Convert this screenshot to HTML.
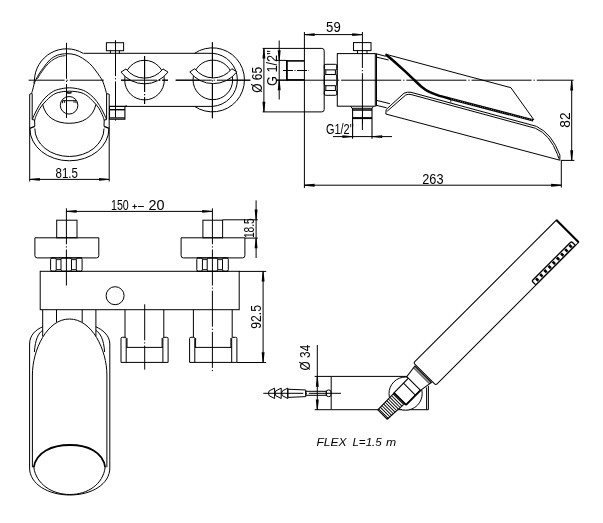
<!DOCTYPE html>
<html><head><meta charset="utf-8"><style>
html,body{margin:0;padding:0;background:#fff;}
svg{display:block;filter:grayscale(1);}
text{font-family:"Liberation Sans",sans-serif;fill:#000;}
</style></head><body>
<svg width="603" height="523" viewBox="0 0 603 523">
<rect width="603" height="523" fill="#fff"/>
<path d="M83.3,53.4 A32.3,32.3 0 0 0 34.4,80.5 L33.9,83.5" fill="none" stroke="#000" stroke-width="1.0" />
<path d="M31.60,93.40 C31.77,92.85 32.18,91.63 32.60,90.10 C33.02,88.57 33.60,85.85 34.10,84.20 C34.60,82.55 35.02,81.50 35.60,80.20 C36.18,78.90 36.92,77.60 37.60,76.40 C38.28,75.20 38.70,74.48 39.70,73.00 C40.70,71.52 41.93,69.67 43.60,67.50 C45.27,65.33 47.38,62.05 49.70,60.00 C52.02,57.95 54.67,56.25 57.50,55.20 C60.33,54.15 63.78,53.78 66.70,53.70 C69.62,53.62 72.40,53.97 75.00,54.70 C77.60,55.43 79.85,56.62 82.30,58.10 C84.75,59.58 87.55,61.62 89.70,63.60 C91.85,65.58 93.52,67.87 95.20,70.00 C96.88,72.13 98.57,74.57 99.80,76.40 C101.03,78.23 101.77,79.17 102.60,81.00 C103.43,82.83 104.13,85.30 104.80,87.40 C105.47,89.50 106.30,92.57 106.60,93.60" fill="none" stroke="#000" stroke-width="1.0" />
<path d="M37.40,78.80 C37.78,78.15 38.95,76.08 39.70,74.90 C40.45,73.72 40.88,73.12 41.90,71.70 C42.92,70.28 44.20,68.22 45.80,66.40 C47.40,64.58 49.38,62.38 51.50,60.80 C53.62,59.22 56.17,57.77 58.50,56.90 C60.83,56.03 64.33,55.82 65.50,55.60" fill="none" stroke="#000" stroke-width="0.9" />
<path d="M31.8,93.5 L29.7,94.2 L29.7,128" fill="none" stroke="#000" stroke-width="1.0" />
<path d="M106.6,93.6 L109.2,94.2 L109.2,128" fill="none" stroke="#000" stroke-width="1.0" />
<line x1="32.20" y1="93.50" x2="32.20" y2="119.40" stroke="#000" stroke-width="1.0"/>
<line x1="106.60" y1="93.60" x2="106.60" y2="119.40" stroke="#000" stroke-width="1.0"/>
<path d="M32.30,119.60 C32.70,118.67 33.53,116.37 34.70,114.00 C35.87,111.63 37.58,108.08 39.30,105.40 C41.02,102.72 42.90,100.10 45.00,97.90 C47.10,95.70 49.60,93.63 51.90,92.20 C54.20,90.77 55.88,90.03 58.80,89.30 C61.72,88.57 65.87,87.80 69.40,87.80 C72.93,87.80 77.08,88.57 80.00,89.30 C82.92,90.03 84.60,90.77 86.90,92.20 C89.20,93.63 91.70,95.70 93.80,97.90 C95.90,100.10 97.78,102.72 99.50,105.40 C101.22,108.08 102.93,111.63 104.10,114.00 C105.27,116.37 106.10,118.67 106.50,119.60" fill="none" stroke="#000" stroke-width="1.0" />
<path d="M34.80,120.10 C34.98,119.47 35.05,118.27 35.90,116.30 C36.75,114.33 38.38,110.68 39.90,108.30 C41.42,105.92 43.00,104.12 45.00,102.00 C47.00,99.88 49.60,97.20 51.90,95.60 C54.20,94.00 55.88,93.13 58.80,92.40 C61.72,91.67 65.87,91.20 69.40,91.20 C72.93,91.20 77.08,91.67 80.00,92.40 C82.92,93.13 84.60,94.00 86.90,95.60 C89.20,97.20 91.80,99.88 93.80,102.00 C95.80,104.12 97.38,105.92 98.90,108.30 C100.42,110.68 102.05,114.33 102.90,116.30 C103.75,118.27 103.82,119.47 104.00,120.10" fill="none" stroke="#000" stroke-width="1.0" />
<line x1="32.30" y1="119.60" x2="34.80" y2="120.10" stroke="#000" stroke-width="1.0"/>
<line x1="106.50" y1="119.60" x2="104.00" y2="120.10" stroke="#000" stroke-width="1.0"/>
<line x1="34.60" y1="120.00" x2="34.80" y2="126.30" stroke="#000" stroke-width="1.0"/>
<line x1="104.20" y1="120.00" x2="104.00" y2="126.30" stroke="#000" stroke-width="1.0"/>
<path d="M42.7,104.5 C45.5,117.5 56,123.3 69.3,123.3 C82.5,123.3 93,117.5 95.9,104.5" fill="none" stroke="#000" stroke-width="1.0" />
<circle cx="69.10" cy="105.30" r="8.80" fill="none" stroke="#000" stroke-width="1.0"/>
<path d="M62.6,103.2 L62.6,100.7 L76,100.7 L76,103.2" fill="none" stroke="#000" stroke-width="1.0" />
<path d="M64.5,103 L64.5,101 M74,103 L74,101" fill="none" stroke="#000" stroke-width="0.8" />
<path d="M67,92.3 Q69,93.8 71.5,92.3" fill="none" stroke="#000" stroke-width="1.5" />
<line x1="29.70" y1="128.30" x2="34.80" y2="126.30" stroke="#000" stroke-width="1.3"/>
<line x1="109.20" y1="128.30" x2="104.00" y2="126.30" stroke="#000" stroke-width="1.3"/>
<path d="M29.9,128.8 A39.5,32 0 0 0 108.9,128.8" fill="none" stroke="#000" stroke-width="1.0" />
<path d="M34.8,128.5 A34.6,28 0 0 0 104.0,128.5" fill="none" stroke="#000" stroke-width="1.0" />
<line x1="29.70" y1="128.00" x2="29.70" y2="181.50" stroke="#000" stroke-width="1.0"/>
<line x1="109.20" y1="128.00" x2="109.20" y2="181.50" stroke="#000" stroke-width="1.0"/>
<line x1="29.70" y1="179.40" x2="109.20" y2="179.40" stroke="#000" stroke-width="1.0"/>
<path d="M29.70,178.95 L39.90,177.95 L39.90,180.85 L29.70,179.85 Z" fill="#000" stroke="none"/>
<path d="M109.20,179.85 L99.00,180.85 L99.00,177.95 L109.20,178.95 Z" fill="#000" stroke="none"/>
<text x="55.5" y="177.5" font-size="14.2" text-anchor="start" textLength="22.4" lengthAdjust="spacingAndGlyphs">81.5</text>
<line x1="66.50" y1="42.80" x2="66.50" y2="118.00" stroke="#000" stroke-width="1.0" stroke-dasharray="36 2 1.2 2"/>
<line x1="28.60" y1="80.20" x2="103.80" y2="80.20" stroke="#000" stroke-width="1.0" stroke-dasharray="36 2 1.2 2"/>
<line x1="121.00" y1="80.20" x2="168.00" y2="80.20" stroke="#000" stroke-width="1.0" stroke-dasharray="36 2 1.2 2"/>
<line x1="175.70" y1="80.20" x2="250.30" y2="80.20" stroke="#000" stroke-width="1.0" stroke-dasharray="36 2 1.2 2"/>
<line x1="115.50" y1="40.20" x2="115.50" y2="121.00" stroke="#000" stroke-width="1.0" stroke-dasharray="36 2 1.2 2"/>
<line x1="144.60" y1="56.00" x2="144.60" y2="104.00" stroke="#000" stroke-width="1.0" stroke-dasharray="36 2 1.2 2"/>
<line x1="212.40" y1="42.30" x2="212.40" y2="118.20" stroke="#000" stroke-width="1.0" stroke-dasharray="36 2 1.2 2"/>
<line x1="83.50" y1="53.30" x2="212.40" y2="53.30" stroke="#000" stroke-width="1.0"/>
<line x1="109.20" y1="106.40" x2="212.40" y2="106.40" stroke="#000" stroke-width="1.0"/>
<path d="M194.6,53.3 A32,32 0 1 1 194.6,106.4" fill="none" stroke="#000" stroke-width="1.0" />
<path d="M212.4,53.3 A26.6,26.6 0 0 1 212.4,106.4" fill="none" stroke="#000" stroke-width="1.0" />
<rect x="106.40" y="42.70" width="17.20" height="8.00" rx="0" fill="none" stroke="#000" stroke-width="1.0"/>
<line x1="110.40" y1="50.70" x2="110.40" y2="53.30" stroke="#000" stroke-width="1.0"/>
<line x1="119.40" y1="50.70" x2="119.40" y2="53.30" stroke="#000" stroke-width="1.0"/>
<line x1="109.50" y1="109.70" x2="124.90" y2="109.70" stroke="#000" stroke-width="1.4"/>
<rect x="109.50" y="106.40" width="15.40" height="12.80" rx="0" fill="none" stroke="#000" stroke-width="1.1"/>
<line x1="109.50" y1="117.90" x2="124.90" y2="117.90" stroke="#000" stroke-width="1.2"/>
<line x1="124.90" y1="106.40" x2="126.80" y2="105.60" stroke="#000" stroke-width="1.0"/>
<circle cx="144.50" cy="80.10" r="19.80" fill="none" stroke="#000" stroke-width="1.0"/>
<path d="M126.00,68.90 A23.2,23.2 0 0 0 163.00,68.90 L168.00,72.10 A29.4,29.4 0 0 1 121.00,72.10 Z" fill="#fff" stroke="#000" stroke-width="1.0" stroke-linejoin="round"/>
<circle cx="212.85" cy="79.90" r="19.80" fill="none" stroke="#000" stroke-width="1.0"/>
<path d="M194.80,68.70 A23.2,23.2 0 0 0 231.80,68.70 L236.80,71.90 A29.4,29.4 0 0 1 189.80,71.90 Z" fill="#fff" stroke="#000" stroke-width="1.0" stroke-linejoin="round"/>
<line x1="144.60" y1="56.00" x2="144.60" y2="104.00" stroke="#000" stroke-width="1.0" stroke-dasharray="36 2 1.2 2"/>
<line x1="212.40" y1="42.30" x2="212.40" y2="118.20" stroke="#000" stroke-width="1.0" stroke-dasharray="36 2 1.2 2"/>
<line x1="121.00" y1="80.20" x2="168.00" y2="80.20" stroke="#000" stroke-width="1.0" stroke-dasharray="36 2 1.2 2"/>
<line x1="175.70" y1="80.20" x2="250.30" y2="80.20" stroke="#000" stroke-width="1.0" stroke-dasharray="36 2 1.2 2"/>
<line x1="304.40" y1="32.00" x2="304.40" y2="188.00" stroke="#000" stroke-width="1.0"/>
<line x1="362.40" y1="32.00" x2="362.40" y2="130.00" stroke="#000" stroke-width="1.0" stroke-dasharray="36 2 1.2 2"/>
<line x1="304.40" y1="34.60" x2="362.40" y2="34.60" stroke="#000" stroke-width="1.0"/>
<path d="M304.40,34.15 L314.60,33.15 L314.60,36.05 L304.40,35.05 Z" fill="#000" stroke="none"/>
<path d="M362.40,35.05 L352.20,36.05 L352.20,33.15 L362.40,34.15 Z" fill="#000" stroke="none"/>
<text x="326.1" y="32.4" font-size="14.2" text-anchor="start" textLength="14.6" lengthAdjust="spacingAndGlyphs">59</text>
<path d="M262.6,48.4 L321.8,48.4 Q324.2,48.4 324.2,50.8 L324.2,109.5 Q324.2,111.9 321.8,111.9 L262.6,111.9" fill="none" stroke="#000" stroke-width="1.0" />
<line x1="263.90" y1="48.40" x2="263.90" y2="111.90" stroke="#000" stroke-width="1.0"/>
<path d="M264.35,48.40 L265.35,58.60 L262.45,58.60 L263.45,48.40 Z" fill="#000" stroke="none"/>
<path d="M263.45,111.90 L262.45,101.70 L265.35,101.70 L264.35,111.90 Z" fill="#000" stroke="none"/>
<text x="261.7" y="92.8" font-size="14.2" text-anchor="start" textLength="25.9" lengthAdjust="spacingAndGlyphs" transform="rotate(-90 261.7 92.8)">Ø 65</text>
<line x1="286.90" y1="60.90" x2="304.40" y2="60.90" stroke="#000" stroke-width="1.6"/>
<line x1="286.90" y1="79.90" x2="304.40" y2="79.90" stroke="#000" stroke-width="1.6"/>
<line x1="286.90" y1="60.10" x2="286.90" y2="80.70" stroke="#000" stroke-width="1.8"/>
<line x1="283.00" y1="70.50" x2="309.00" y2="70.50" stroke="#000" stroke-width="1.0" stroke-dasharray="10 1.5 1 1.5"/>
<line x1="279.20" y1="40.50" x2="279.20" y2="99.50" stroke="#000" stroke-width="1.0"/>
<line x1="276.00" y1="60.40" x2="286.40" y2="60.40" stroke="#000" stroke-width="1.0"/>
<line x1="276.00" y1="80.10" x2="286.40" y2="80.10" stroke="#000" stroke-width="1.0"/>
<path d="M278.75,60.40 L277.75,50.20 L280.65,50.20 L279.65,60.40 Z" fill="#000" stroke="none"/>
<path d="M279.65,80.10 L280.65,90.30 L277.75,90.30 L278.75,80.10 Z" fill="#000" stroke="none"/>
<text x="276.7" y="85.9" font-size="14.2" text-anchor="start" textLength="35.6" lengthAdjust="spacingAndGlyphs" transform="rotate(-90 276.7 85.9)">G 1/2"</text>
<rect x="324.30" y="64.30" width="12.60" height="5.60" rx="1.6" fill="none" stroke="#000" stroke-width="1.0"/>
<rect x="324.30" y="74.50" width="12.60" height="11.20" rx="1.6" fill="none" stroke="#000" stroke-width="1.0"/>
<rect x="324.30" y="90.50" width="12.60" height="4.80" rx="1.6" fill="none" stroke="#000" stroke-width="1.0"/>
<line x1="325.80" y1="69.90" x2="325.80" y2="74.50" stroke="#000" stroke-width="1.0"/>
<line x1="335.40" y1="69.90" x2="335.40" y2="74.50" stroke="#000" stroke-width="1.0"/>
<line x1="325.80" y1="85.70" x2="325.80" y2="90.50" stroke="#000" stroke-width="1.0"/>
<line x1="335.40" y1="85.70" x2="335.40" y2="90.50" stroke="#000" stroke-width="1.0"/>
<line x1="324.30" y1="64.30" x2="324.30" y2="95.30" stroke="#000" stroke-width="0.6"/>
<line x1="336.90" y1="64.30" x2="336.90" y2="95.30" stroke="#000" stroke-width="0.6"/>
<rect x="337.30" y="53.60" width="38.00" height="52.60" rx="0" fill="none" stroke="#000" stroke-width="1.0"/>
<line x1="376.50" y1="53.60" x2="376.50" y2="106.20" stroke="#000" stroke-width="1.0"/>
<rect x="353.50" y="42.60" width="17.50" height="8.00" rx="0" fill="none" stroke="#000" stroke-width="1.0"/>
<line x1="357.50" y1="50.60" x2="357.50" y2="53.60" stroke="#000" stroke-width="1.0"/>
<line x1="367.00" y1="50.60" x2="367.00" y2="53.60" stroke="#000" stroke-width="1.0"/>
<path d="M350.8,106.3 L352,108.3 L372.2,108.3 L373.4,106.3" fill="none" stroke="#000" stroke-width="1.0" />
<line x1="352.60" y1="110.00" x2="372.00" y2="110.00" stroke="#000" stroke-width="1.5"/>
<line x1="352.60" y1="118.10" x2="372.00" y2="118.10" stroke="#000" stroke-width="2.0"/>
<line x1="352.60" y1="108.30" x2="352.60" y2="138.80" stroke="#000" stroke-width="1.1"/>
<line x1="372.00" y1="108.30" x2="372.00" y2="138.80" stroke="#000" stroke-width="1.1"/>
<line x1="333.00" y1="136.60" x2="392.00" y2="136.60" stroke="#000" stroke-width="1.0"/>
<path d="M352.60,137.05 L342.40,138.05 L342.40,135.15 L352.60,136.15 Z" fill="#000" stroke="none"/>
<path d="M372.00,136.15 L382.20,135.15 L382.20,138.05 L372.00,137.05 Z" fill="#000" stroke="none"/>
<text x="325.9" y="134.3" font-size="14.2" text-anchor="start" textLength="27.7" lengthAdjust="spacingAndGlyphs">G1/2"</text>
<line x1="276.00" y1="80.20" x2="573.50" y2="80.20" stroke="#000" stroke-width="1.0" stroke-dasharray="60 2 1.2 2"/>
<line x1="375.50" y1="53.60" x2="385.70" y2="56.30" stroke="#000" stroke-width="1.0"/>
<line x1="376.50" y1="57.10" x2="388.60" y2="60.00" stroke="#000" stroke-width="1.0"/>
<line x1="376.30" y1="100.30" x2="389.90" y2="103.70" stroke="#000" stroke-width="1.0"/>
<line x1="376.30" y1="105.30" x2="386.60" y2="107.80" stroke="#000" stroke-width="1.0"/>
<path d="M385.5,54.2 L510.9,87.7 L534.0,120.0" fill="none" stroke="#000" stroke-width="1.0" />
<path d="M385.60,54.40 C386.60,55.22 388.67,56.75 391.60,59.30 C394.53,61.85 399.33,66.17 403.20,69.70 C407.07,73.23 411.70,77.62 414.80,80.50 C417.90,83.38 419.47,85.13 421.80,87.00 C424.13,88.87 426.10,90.30 428.80,91.70 C431.50,93.10 434.47,94.23 438.00,95.40 C441.53,96.57 448.00,98.15 450.00,98.70 L533.2,120.4" fill="none" stroke="#000" stroke-width="2.5" />
<path d="M451,99 L532,120.1" fill="none" stroke="#fff" stroke-width="0.6" stroke-dasharray="0.7 1.6"/>
<line x1="450.80" y1="99.40" x2="450.80" y2="102.60" stroke="#000" stroke-width="0.8"/>
<path d="M385.8,114 L386.2,109.5 L404,93.2 Q407.5,91.6 411,92.3 L536.3,126.3 Q552,133.5 559.9,155.2 L559.8,160.2 Z" fill="none" stroke="#000" stroke-width="1.0" />
<path d="M387.2,111.2 L405.7,95.0 Q408,93.9 411,94.5 L535.5,128.3 Q550,134.5 557.5,154.5 L558.9,158.7" fill="none" stroke="#000" stroke-width="1.0" />
<line x1="571.70" y1="80.20" x2="571.70" y2="160.40" stroke="#000" stroke-width="1.0"/>
<line x1="560.80" y1="160.40" x2="574.40" y2="160.40" stroke="#000" stroke-width="1.0"/>
<path d="M572.15,80.20 L573.15,90.40 L570.25,90.40 L571.25,80.20 Z" fill="#000" stroke="none"/>
<path d="M571.25,160.40 L570.25,150.20 L573.15,150.20 L572.15,160.40 Z" fill="#000" stroke="none"/>
<text x="569.7" y="127.8" font-size="14.2" text-anchor="start" textLength="15.4" lengthAdjust="spacingAndGlyphs" transform="rotate(-90 569.7 127.8)">82</text>
<line x1="561.30" y1="160.20" x2="561.30" y2="187.50" stroke="#000" stroke-width="1.0"/>
<line x1="304.40" y1="185.20" x2="561.30" y2="185.20" stroke="#000" stroke-width="1.0"/>
<path d="M304.40,184.75 L314.60,183.75 L314.60,186.65 L304.40,185.65 Z" fill="#000" stroke="none"/>
<path d="M561.30,185.65 L551.10,186.65 L551.10,183.75 L561.30,184.75 Z" fill="#000" stroke="none"/>
<text x="422.2" y="183.6" font-size="14.2" text-anchor="start" textLength="21.3" lengthAdjust="spacingAndGlyphs">263</text>
<line x1="362.50" y1="106.00" x2="362.50" y2="123.70" stroke="#000" stroke-width="1.0" stroke-dasharray="36 2 1.2 2"/>
<line x1="66.40" y1="208.30" x2="66.40" y2="287.00" stroke="#000" stroke-width="1.0" stroke-dasharray="36 2 1.2 2"/>
<line x1="212.40" y1="208.30" x2="212.40" y2="373.00" stroke="#000" stroke-width="1.0" stroke-dasharray="36 2 1.2 2"/>
<line x1="66.40" y1="211.40" x2="212.40" y2="211.40" stroke="#000" stroke-width="1.0"/>
<path d="M66.40,210.95 L76.60,209.95 L76.60,212.85 L66.40,211.85 Z" fill="#000" stroke="none"/>
<path d="M212.40,211.85 L202.20,212.85 L202.20,209.95 L212.40,210.95 Z" fill="#000" stroke="none"/>
<text x="111.0" y="209.6" font-size="14.2" text-anchor="start" textLength="17.8" lengthAdjust="spacingAndGlyphs">150</text>
<text x="148.6" y="209.6" font-size="14.2" text-anchor="start" textLength="16.0" lengthAdjust="spacingAndGlyphs">20</text>
<line x1="132.40" y1="206.50" x2="136.90" y2="206.50" stroke="#000" stroke-width="0.95"/>
<line x1="134.65" y1="204.20" x2="134.65" y2="208.80" stroke="#000" stroke-width="0.95"/>
<line x1="138.00" y1="206.50" x2="143.90" y2="206.50" stroke="#000" stroke-width="0.95"/>
<rect x="56.70" y="220.20" width="20.30" height="17.60" rx="0" fill="none" stroke="#000" stroke-width="1.0"/>
<path d="M34.9,237.8 L98.8,237.8 L98.8,255.6 Q98.8,257.9 96.5,257.9 L37.199999999999996,257.9 Q34.9,257.9 34.9,255.6 Z" fill="none" stroke="#000" stroke-width="1.0" />
<line x1="50.60" y1="257.90" x2="82.10" y2="257.90" stroke="#000" stroke-width="1.0"/>
<line x1="50.60" y1="271.30" x2="82.10" y2="271.30" stroke="#000" stroke-width="1.0"/>
<rect x="50.60" y="257.90" width="5.61" height="13.40" rx="1.6" fill="none" stroke="#000" stroke-width="1.0"/>
<rect x="60.99" y="257.90" width="10.49" height="13.40" rx="1.6" fill="none" stroke="#000" stroke-width="1.0"/>
<rect x="76.30" y="257.90" width="5.80" height="13.40" rx="1.6" fill="none" stroke="#000" stroke-width="1.0"/>
<line x1="56.21" y1="259.60" x2="60.99" y2="259.60" stroke="#000" stroke-width="0.9"/>
<line x1="56.21" y1="269.60" x2="60.99" y2="269.60" stroke="#000" stroke-width="0.9"/>
<line x1="71.48" y1="259.60" x2="76.30" y2="259.60" stroke="#000" stroke-width="0.9"/>
<line x1="71.48" y1="269.60" x2="76.30" y2="269.60" stroke="#000" stroke-width="0.9"/>
<rect x="202.90" y="220.20" width="19.70" height="17.60" rx="0" fill="none" stroke="#000" stroke-width="1.0"/>
<path d="M181.1,237.8 L244.9,237.8 L244.9,255.6 Q244.9,257.9 242.6,257.9 L183.4,257.9 Q181.1,257.9 181.1,255.6 Z" fill="none" stroke="#000" stroke-width="1.0" />
<line x1="196.80" y1="257.90" x2="228.30" y2="257.90" stroke="#000" stroke-width="1.0"/>
<line x1="196.80" y1="271.30" x2="228.30" y2="271.30" stroke="#000" stroke-width="1.0"/>
<rect x="196.80" y="257.90" width="5.61" height="13.40" rx="1.6" fill="none" stroke="#000" stroke-width="1.0"/>
<rect x="207.20" y="257.90" width="10.49" height="13.40" rx="1.6" fill="none" stroke="#000" stroke-width="1.0"/>
<rect x="222.50" y="257.90" width="5.80" height="13.40" rx="1.6" fill="none" stroke="#000" stroke-width="1.0"/>
<line x1="202.41" y1="259.60" x2="207.20" y2="259.60" stroke="#000" stroke-width="0.9"/>
<line x1="202.41" y1="269.60" x2="207.20" y2="269.60" stroke="#000" stroke-width="0.9"/>
<line x1="217.68" y1="259.60" x2="222.50" y2="259.60" stroke="#000" stroke-width="0.9"/>
<line x1="217.68" y1="269.60" x2="222.50" y2="269.60" stroke="#000" stroke-width="0.9"/>
<rect x="40.20" y="271.30" width="199.00" height="38.40" rx="0" fill="none" stroke="#000" stroke-width="1.0"/>
<circle cx="115.10" cy="295.70" r="9.00" fill="none" stroke="#000" stroke-width="1.0"/>
<line x1="42.70" y1="309.70" x2="42.70" y2="336.40" stroke="#000" stroke-width="1.0"/>
<line x1="56.50" y1="309.70" x2="56.50" y2="322.30" stroke="#000" stroke-width="1.0"/>
<line x1="82.20" y1="309.70" x2="82.20" y2="322.30" stroke="#000" stroke-width="1.0"/>
<line x1="95.90" y1="309.70" x2="95.90" y2="336.40" stroke="#000" stroke-width="1.0"/>
<path d="M42.7,326.8 C36,329.5 29.6,335 29.6,344 L29.6,468 C29.6,484 48,495 69.8,495 C92,495 109.8,484 109.8,468 L109.8,344 C109.8,335 102,329.5 95.9,326.8" fill="none" stroke="#000" stroke-width="1.0" />
<path d="M42.7,330.4 C38.5,333 35.2,339 34.4,352" fill="none" stroke="#000" stroke-width="1.0" />
<path d="M95.9,330.4 C100.1,333 103.8,339 104.6,352" fill="none" stroke="#000" stroke-width="1.0" />
<path d="M32.4,467.3 L32.4,375 C32.4,350 47,319 69.4,319 C92,319 106.9,350 106.9,375 L106.9,467.3" fill="none" stroke="#000" stroke-width="1.0" />
<path d="M33.8,467.3 C36,452 52,445 69.9,445 C88,445 103,452 105.2,467.3" fill="none" stroke="#000" stroke-width="1.8" />
<path d="M33.8,467.3 C36,484 52,494.5 69.9,494.5 C88,494.5 103,484 105.2,467.3" fill="none" stroke="#000" stroke-width="1.0" />
<line x1="125.00" y1="309.70" x2="125.00" y2="337.30" stroke="#000" stroke-width="1.0"/>
<line x1="163.80" y1="309.70" x2="163.80" y2="337.30" stroke="#000" stroke-width="1.0"/>
<path d="M121,338.5 Q121,337.3 122.2,337.3 L125.2,337.3 Q126.2,337.3 126.2,338.5 L126.2,362.4 M126.2,347.4 L162.9,347.4 M162.9,362.4 L162.9,338.5 Q162.9,337.3 163.9,337.3 L166.9,337.3 Q168.1,337.3 168.1,338.5 L168.1,362.4 L121,362.4 L121,338.5" fill="none" stroke="#000" stroke-width="1.0" />
<line x1="127.00" y1="338.00" x2="127.00" y2="347.00" stroke="#000" stroke-width="1.0"/>
<line x1="162.10" y1="338.00" x2="162.10" y2="347.00" stroke="#000" stroke-width="1.0"/>
<line x1="193.40" y1="309.70" x2="193.40" y2="337.30" stroke="#000" stroke-width="1.0"/>
<line x1="232.20" y1="309.70" x2="232.20" y2="337.30" stroke="#000" stroke-width="1.0"/>
<path d="M189.6,338.5 Q189.6,337.3 190.79999999999998,337.3 L193.79999999999998,337.3 Q194.79999999999998,337.3 194.79999999999998,338.5 L194.79999999999998,362.4 M194.79999999999998,347.4 L231.70000000000002,347.4 M231.70000000000002,362.4 L231.70000000000002,338.5 Q231.70000000000002,337.3 232.70000000000002,337.3 L235.70000000000002,337.3 Q236.9,337.3 236.9,338.5 L236.9,362.4 L189.6,362.4 L189.6,338.5" fill="none" stroke="#000" stroke-width="1.0" />
<line x1="195.60" y1="338.00" x2="195.60" y2="347.00" stroke="#000" stroke-width="1.0"/>
<line x1="230.90" y1="338.00" x2="230.90" y2="347.00" stroke="#000" stroke-width="1.0"/>
<line x1="144.70" y1="304.30" x2="144.70" y2="369.60" stroke="#000" stroke-width="1.0" stroke-dasharray="36 2 1.2 2"/>
<line x1="256.10" y1="200.40" x2="256.10" y2="258.00" stroke="#000" stroke-width="1.0"/>
<line x1="222.60" y1="219.80" x2="257.80" y2="219.80" stroke="#000" stroke-width="1.0"/>
<line x1="244.90" y1="238.10" x2="257.80" y2="238.10" stroke="#000" stroke-width="1.0"/>
<path d="M255.65,219.80 L254.65,209.60 L257.55,209.60 L256.55,219.80 Z" fill="#000" stroke="none"/>
<path d="M256.55,238.10 L257.55,248.30 L254.65,248.30 L255.65,238.10 Z" fill="#000" stroke="none"/>
<text x="254.0" y="238.1" font-size="14.2" text-anchor="start" textLength="19.8" lengthAdjust="spacingAndGlyphs" transform="rotate(-90 254.0 238.1)">18.5</text>
<line x1="263.10" y1="271.00" x2="263.10" y2="362.50" stroke="#000" stroke-width="1.0"/>
<line x1="239.00" y1="271.40" x2="266.20" y2="271.40" stroke="#000" stroke-width="1.0"/>
<line x1="237.00" y1="362.50" x2="266.20" y2="362.50" stroke="#000" stroke-width="1.0"/>
<path d="M263.55,271.40 L264.55,281.60 L261.65,281.60 L262.65,271.40 Z" fill="#000" stroke="none"/>
<path d="M262.65,362.50 L261.65,352.30 L264.55,352.30 L263.55,362.50 Z" fill="#000" stroke="none"/>
<text x="261.1" y="328.7" font-size="14.2" text-anchor="start" textLength="23.6" lengthAdjust="spacingAndGlyphs" transform="rotate(-90 261.1 328.7)">92.5</text>
<line x1="317.30" y1="345.00" x2="317.30" y2="409.70" stroke="#000" stroke-width="1.0"/>
<line x1="314.70" y1="376.40" x2="331.20" y2="376.40" stroke="#000" stroke-width="1.0"/>
<line x1="314.70" y1="409.70" x2="331.20" y2="409.70" stroke="#000" stroke-width="1.0"/>
<path d="M317.75,376.60 L318.75,386.80 L315.85,386.80 L316.85,376.60 Z" fill="#000" stroke="none"/>
<path d="M316.85,409.70 L315.85,399.50 L318.75,399.50 L317.75,409.70 Z" fill="#000" stroke="none"/>
<text x="310.0" y="370.4" font-size="14.2" text-anchor="start" textLength="25.6" lengthAdjust="spacingAndGlyphs" transform="rotate(-90 310.0 370.4)">Ø 34</text>
<line x1="331.20" y1="376.40" x2="331.20" y2="409.70" stroke="#000" stroke-width="1.0"/>
<line x1="331.20" y1="376.40" x2="407.00" y2="376.40" stroke="#000" stroke-width="1.0"/>
<line x1="331.20" y1="409.70" x2="428.40" y2="409.70" stroke="#000" stroke-width="1.0"/>
<line x1="428.40" y1="386.00" x2="428.40" y2="409.70" stroke="#000" stroke-width="1.0"/>
<line x1="426.60" y1="387.50" x2="426.60" y2="409.70" stroke="#000" stroke-width="1.0"/>
<path d="M269.2,390.9 Q267.6,393.3 269.2,395.7 L274.6,398.5 L274.6,388.1 Z" fill="none" stroke="#000" stroke-width="1.0" />
<path d="M275.8,390.9 Q274.2,393.3 275.8,395.7 L281.2,398.5 L281.2,388.1 Z" fill="none" stroke="#000" stroke-width="1.0" />
<path d="M282.4,390.9 Q280.8,393.3 282.4,395.7 L287.8,398.5 L287.8,388.1 Z" fill="none" stroke="#000" stroke-width="1.0" />
<path d="M287.8,389.2 L305.8,390.0 L305.8,396.6 L287.8,397.4 Z" fill="none" stroke="#000" stroke-width="1.0" />
<rect x="305.80" y="391.30" width="20.50" height="4.00" rx="0" fill="none" stroke="#000" stroke-width="1.0"/>
<rect x="326.30" y="390.00" width="4.70" height="6.60" rx="2" fill="none" stroke="#000" stroke-width="1.0"/>
<line x1="263.30" y1="393.30" x2="341.00" y2="393.30" stroke="#000" stroke-width="1.0" stroke-dasharray="40 2 1.5 2"/>
<circle cx="405.60" cy="393.60" r="16.60" fill="#fff" stroke="#000" stroke-width="1.0"/>
<g transform="translate(424.7,374) rotate(-45)">
<path d="M-58.5,-7.8 L-35,-8.2 L-35,6.8 L-58.5,5.4 Z" fill="#fff" stroke="#000" stroke-width="1.1"/>
<line x1="-57.20" y1="-8.00" x2="-57.20" y2="6.30" stroke="#000" stroke-width="0.95"/>
<line x1="-54.90" y1="-8.00" x2="-54.90" y2="6.30" stroke="#000" stroke-width="0.95"/>
<line x1="-52.60" y1="-8.00" x2="-52.60" y2="6.30" stroke="#000" stroke-width="0.95"/>
<line x1="-50.30" y1="-8.00" x2="-50.30" y2="6.30" stroke="#000" stroke-width="0.95"/>
<line x1="-48.00" y1="-8.00" x2="-48.00" y2="6.30" stroke="#000" stroke-width="0.95"/>
<line x1="-45.70" y1="-8.00" x2="-45.70" y2="6.30" stroke="#000" stroke-width="0.95"/>
<line x1="-43.40" y1="-8.00" x2="-43.40" y2="6.30" stroke="#000" stroke-width="0.95"/>
<line x1="-41.10" y1="-8.00" x2="-41.10" y2="6.30" stroke="#000" stroke-width="0.95"/>
<line x1="-38.80" y1="-8.00" x2="-38.80" y2="6.30" stroke="#000" stroke-width="0.95"/>
<line x1="-36.50" y1="-8.00" x2="-36.50" y2="6.30" stroke="#000" stroke-width="0.95"/>
<path d="M-35,-8.4 L-14,-8.6 L-14,8.6 L-35,8.6 Z" fill="#fff" stroke="#000" stroke-width="1.1"/>
<line x1="-21.50" y1="-8.50" x2="-21.50" y2="8.60" stroke="#000" stroke-width="1.0"/>
<line x1="-35.00" y1="8.60" x2="-14.00" y2="8.60" stroke="#000" stroke-width="1.8"/>
<line x1="-35.00" y1="-8.40" x2="-35.00" y2="8.60" stroke="#000" stroke-width="1.8"/>
<path d="M-14.5,-10.8 L-1.2,-12.6 L-1.2,10.8 L-14.5,8.6 Z" fill="#fff" stroke="#000" stroke-width="1"/>
<line x1="-2.20" y1="-12.40" x2="-2.20" y2="10.70" stroke="#000" stroke-width="0.9"/>
<line x1="-3.60" y1="-12.20" x2="-3.60" y2="10.50" stroke="#000" stroke-width="0.9"/>
<path d="M0,-14 Q0,-15.75 1.75,-15.75 L202,-15.75 L202,15.75 L1.75,15.75 Q0,15.75 0,14 Z" fill="#fff" stroke="#000" stroke-width="1.0" />
<line x1="202.00" y1="-15.75" x2="202.00" y2="15.75" stroke="#000" stroke-width="2.0"/>
<path d="M143,10 L196,10 Q197.5,10 197.5,11.5 L197.5,15.5 L143,15.5 Q141.5,15.5 141.5,14 L141.5,11.5 Q141.5,10 143,10 Z" fill="#fff" stroke="#000" stroke-width="1.3" />
<line x1="145.00" y1="12.75" x2="196.00" y2="12.75" stroke="#000" stroke-width="3.4" stroke-dasharray="2.6 3.3"/>
</g>
<text x="316.4" y="445.8" font-size="11.6" text-anchor="start" textLength="30.2" lengthAdjust="spacingAndGlyphs" font-style="italic">FLEX</text>
<text x="352.4" y="445.8" font-size="11.6" text-anchor="start" textLength="29.4" lengthAdjust="spacingAndGlyphs" font-style="italic">L=1.5</text>
<text x="386.0" y="445.8" font-size="11.6" text-anchor="start" textLength="10.2" lengthAdjust="spacingAndGlyphs" font-style="italic">m</text>
</svg></body></html>
